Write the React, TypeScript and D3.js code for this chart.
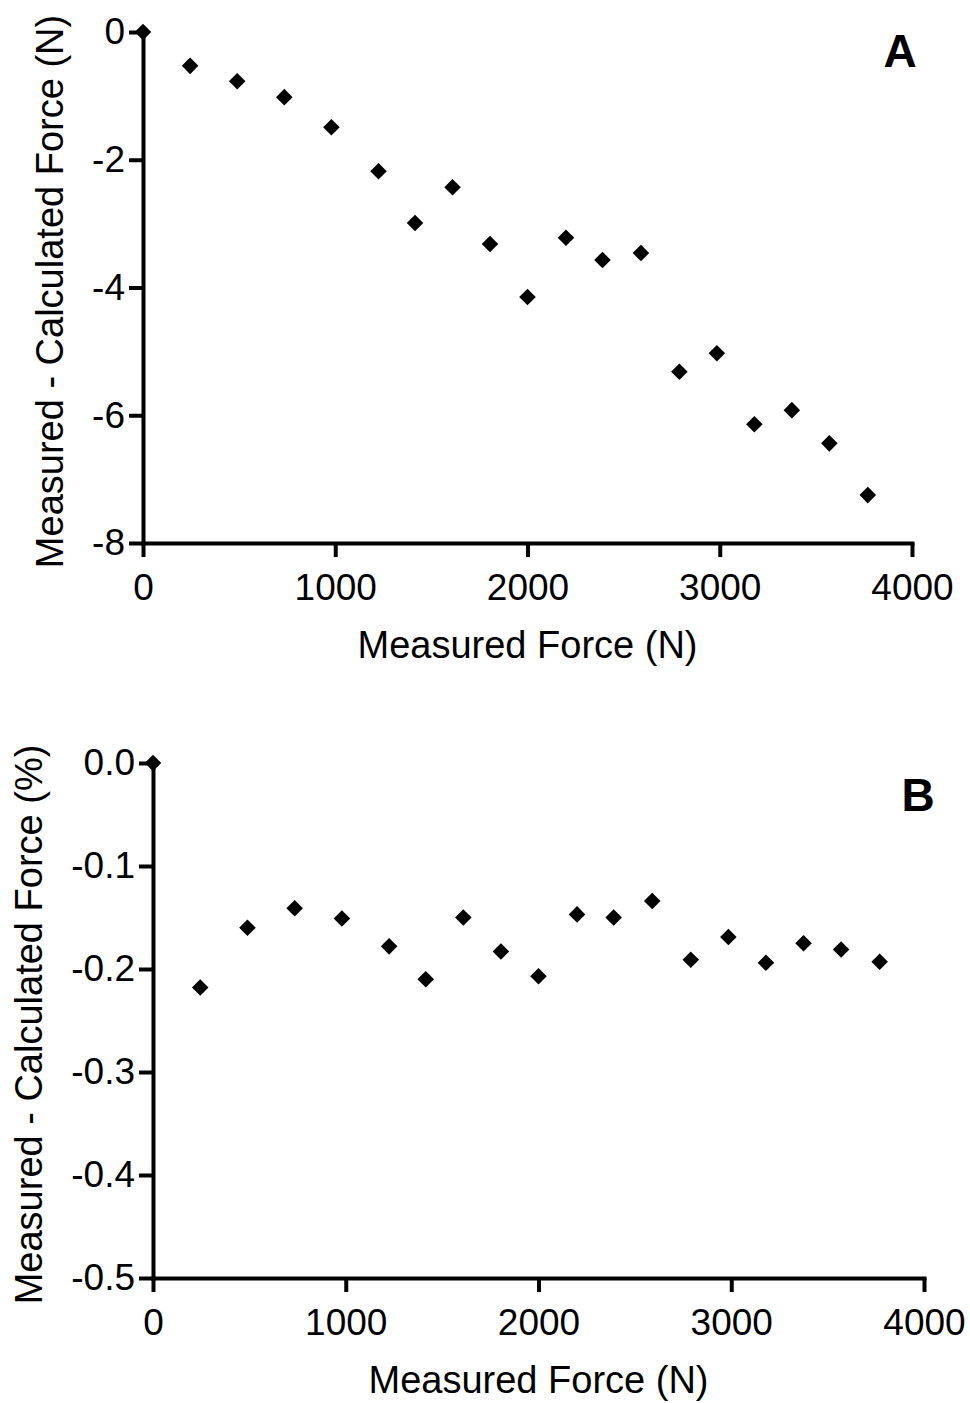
import React, { useRef, useEffect } from 'react';
import * as d3 from 'd3';

// measured force (N), shared by both panels
const measuredForce = [245, 490, 735, 980, 1225, 1415, 1610, 1805, 2000, 2200, 2390, 2590, 2790, 2985, 3180, 3375, 3570, 3770];
// panel A: measured - calculated force (N)
const diffNewton = [-0.53, -0.77, -1.02, -1.49, -2.18, -2.99, -2.43, -3.32, -4.15, -3.22, -3.57, -3.46, -5.32, -5.03, -6.14, -5.92, -6.44, -7.25];
// panel B: measured - calculated force (%)
const diffPercent = [-0.218, -0.160, -0.141, -0.151, -0.178, -0.210, -0.150, -0.183, -0.207, -0.147, -0.150, -0.134, -0.191, -0.169, -0.194, -0.175, -0.181, -0.193];

const xTicks = [0, 1000, 2000, 3000, 4000];
const yTicksA = [0, -2, -4, -6, -8];
const yTicksB = [0, -0.1, -0.2, -0.3, -0.4, -0.5];

const FONT = 'Arial, "Liberation Sans", sans-serif';

type PanelProps = {
  xs: number[];
  ys: number[];
  yDomain: [number, number];
  yTicks: number[];
  yFormat: (d: number) => string;
  yTitle: string;
  letter: string;
  box: { left: number; right: number; top: number; bottom: number };
  yTitleX: number;
  letterPos: [number, number];
};

function Panel({ xs, ys, yDomain, yTicks, yFormat, yTitle, letter, box, yTitleX, letterPos }: PanelProps) {
  const gRef = useRef<SVGGElement>(null);

  useEffect(() => {
    const g = d3.select(gRef.current);
    g.selectAll('*').remove();

    const x = d3.scaleLinear().domain([0, 4000]).range([box.left, box.right]);
    const y = d3.scaleLinear().domain(yDomain).range([box.bottom, box.top]);

    // x axis
    const xa = g.append('g')
      .attr('transform', `translate(0,${box.bottom})`)
      .call(d3.axisBottom(x).tickValues(xTicks).tickFormat(d => String(d)).tickSize(14).tickSizeOuter(0).tickPadding(17));
    // y axis
    const ya = g.append('g')
      .attr('transform', `translate(${box.left},0)`)
      .call(d3.axisLeft(y).tickValues(yTicks).tickFormat(d => yFormat(+d)).tickSize(14).tickSizeOuter(0).tickPadding(4));

    [xa, ya].forEach(a => {
      a.selectAll('path, line').attr('stroke', '#000').attr('stroke-width', 4);
      a.select('.domain').attr('stroke-linecap', 'square');
      a.selectAll('text').attr('fill', '#000').style('font-family', FONT).style('font-size', '37px');
    });

    // axis titles
    g.append('text')
      .attr('x', (box.left + box.right) / 2)
      .attr('y', box.bottom + 115)
      .attr('text-anchor', 'middle')
      .style('font-family', FONT)
      .style('font-size', '38px')
      .text('Measured Force (N)');

    g.append('text')
      .attr('transform', `translate(${yTitleX},${(box.top + box.bottom) / 2 + 4}) rotate(-90)`)
      .attr('text-anchor', 'middle')
      .style('font-family', FONT)
      .style('font-size', '38px')
      .text(yTitle);

    // panel letter
    g.append('text')
      .attr('x', letterPos[0])
      .attr('y', letterPos[1])
      .attr('text-anchor', 'middle')
      .style('font-family', FONT)
      .style('font-size', '46px')
      .style('font-weight', 'bold')
      .text(letter);

    // points (origin point included)
    const pts = [[0, 0], ...xs.map((v, i) => [v, ys[i]])];
    const diamond = d3.symbol().type(d3.symbolDiamond2).size(175);
    g.append('g')
      .selectAll('path')
      .data(pts)
      .enter()
      .append('path')
      .attr('d', diamond)
      .attr('transform', d => `translate(${x(d[0])},${y(d[1])})`)
      .attr('fill', '#000');
  }, []);

  return <g ref={gRef} />;
}

export default function App() {
  return (
    <svg width={970} height={1403} style={{ position: 'absolute', left: 0, top: 0, background: '#fff' }}>
      <Panel
        xs={measuredForce}
        ys={diffNewton}
        yDomain={[-8, 0]}
        yTicks={yTicksA}
        yFormat={d => String(d)}
        yTitle="Measured - Calculated Force (N)"
        letter="A"
        box={{ left: 143, right: 912, top: 32, bottom: 543 }}
        yTitleX={63}
        letterPos={[900, 67]}
      />
      <Panel
        xs={measuredForce}
        ys={diffPercent}
        yDomain={[-0.5, 0]}
        yTicks={yTicksB}
        yFormat={d => d.toFixed(1)}
        yTitle="Measured - Calculated Force (%)"
        letter="B"
        box={{ left: 153, right: 924, top: 763, bottom: 1278 }}
        yTitleX={42}
        letterPos={[918, 811]}
      />
    </svg>
  );
}
